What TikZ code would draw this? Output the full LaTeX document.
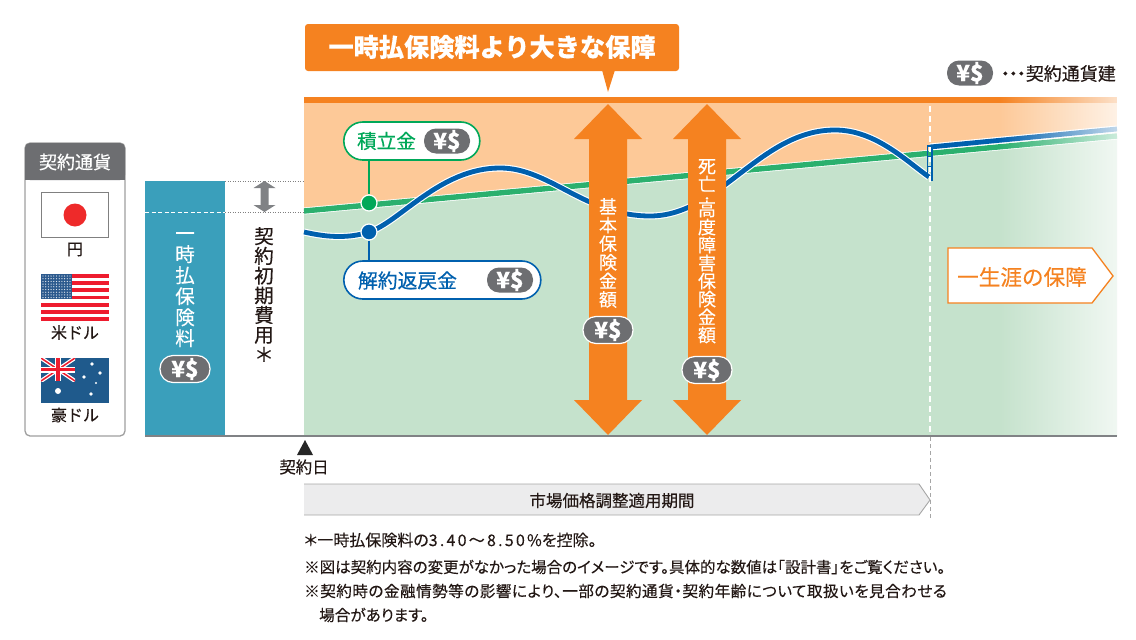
\documentclass[tikz,border=0pt]{standalone}
\usepackage{fontspec}
\setmainfont{Noto Sans CJK JP}[FakeBold=0.35]
\newfontfamily\paltfam{Noto Sans CJK JP}[RawFeature={+palt},FakeBold=0.25]
\newfontfamily\paltwide{Noto Sans CJK JP}[RawFeature={+palt},FakeBold=0.25,LetterSpace=3]
\newfontfamily\spacedfam{Noto Sans CJK JP}[LetterSpace=14,FakeBold=0.25]
\usetikzlibrary{fadings,shapes.geometric}
\definecolor{cOrange}{HTML}{F58220}
\definecolor{cPeach}{HTML}{FDC998}
\definecolor{cMint}{HTML}{C5E2CC}
\definecolor{cGreen}{HTML}{2BB06E}
\definecolor{cGreenDark}{HTML}{00A859}
\definecolor{cBlue}{HTML}{0060AE}
\definecolor{cTeal}{HTML}{3A9FBB}
\definecolor{cGray}{HTML}{6D6E71}
\definecolor{cArrowGray}{HTML}{808285}
\definecolor{cInk}{HTML}{231815}
\definecolor{cBar}{HTML}{ECECED}
\definecolor{cRed}{HTML}{EE2A2A}
\definecolor{cFlagRed}{HTML}{EE1C2E}
\definecolor{cNavy}{HTML}{1F5A8C}
\definecolor{cUSBlue}{HTML}{2C5A8E}
\newcommand{\fs}[2]{\fontsize{#1}{#2}\selectfont}
\tikzset{
  x=1pt,y=-1pt,
  yenpill/.style={fill=cGray,rounded corners=12pt,minimum width=46pt,minimum height=25pt,inner sep=0pt,text=white,font=\fs{22.5}{22.5}\bfseries},
  yenring/.style={yenpill,draw=white,line width=1.2pt,minimum width=50pt,minimum height=27pt,rounded corners=13pt},
  ink/.style={text=cInk,inner sep=0pt},
  note/.style={ink,anchor=west,font=\paltfam\fs{15.6}{15.6}},
  vtext/.style={align=center,inner sep=0pt,anchor=north},
  dotnode/.style={circle,draw=white,line width=1.2pt,minimum size=16pt,inner sep=0pt},
  labelpill/.style={fill=white,line width=1.6pt,rounded corners=19pt,inner sep=0pt,minimum height=38pt,anchor=west},
}
\begin{document}
\begin{tikzpicture}
\useasboundingbox (0,0) rectangle (1136,640);
% chart regions
\fill[cPeach] (304,103) rectangle (1117,436);
\fill[cMint] (304,211) -- (1117,136) -- (1117,436) -- (304,436) -- cycle;
\fill[cOrange] (304,97) rectangle (1117,103);
% green line
\draw[white,line width=7pt] (304,211) -- (1117,136);
\draw[cGreen,line width=5.4pt] (304,211) -- (1117,136);
% blue curve
\def\bluecurve{(304,232) .. controls (330,238) and (350,238) .. (369,232) .. controls (400,222) and (440,168) .. (500,168) .. controls (550,168) and (585,216) .. (650,216) .. controls (720,216) and (760,130) .. (835,130) .. controls (875,130) and (905,160) .. (929,177)}
\draw[white,line width=7pt] \bluecurve;
\draw[cBlue,line width=4.8pt] \bluecurve;
\draw[white,line width=7pt] (930,147) -- (1117,129);
\draw[cBlue,line width=4.8pt] (930,147) -- (1117,129);
% big arrows
\fill[cOrange] (608,104) -- (642,139) -- (627,139) -- (627,400) -- (642,400) -- (608,435) -- (574,400) -- (589,400) -- (589,139) -- (574,139) -- cycle;
\fill[cOrange] (707,104) -- (741,139) -- (726,139) -- (726,400) -- (741,400) -- (707,435) -- (673,400) -- (688,400) -- (688,139) -- (673,139) -- cycle;
% fade
\fill[white,path fading=west] (999,95) rectangle (1155,435);
\fill[white] (1117.5,90) rectangle (1136,436);
% vertical dashed
\draw[white,line width=1.6pt,dash pattern=on 6pt off 4pt] (930,106) -- (930,436);
% jump at end of the guaranteed period
\draw[cBlue,line width=1.6pt] (927.5,145) -- (927.5,177);
\draw[cBlue,line width=1.6pt] (927,146) -- (932,146);
\draw[cBlue,line width=1.2pt] (932,146) -- (932,181);
\draw[cBlue,line width=1pt] (928,156) -- (932,156) (928,166) -- (932,166);
% baseline
\draw[cArrowGray,line width=1.6pt] (145,436) -- (1117,436);
\draw[gray!70,line width=0.8pt,dash pattern=on 4pt off 3pt] (930,437) -- (930,520);
% teal
\fill[cTeal] (145,181) rectangle (225,435);
\draw[white,line width=0.8pt,dash pattern=on 4pt off 2.5pt] (145,212) -- (225,212);
\draw[gray,line width=0.8pt,dash pattern=on 1pt off 1.5pt] (225,181) -- (304,181);
\draw[gray,line width=0.8pt,dash pattern=on 1pt off 1.5pt] (225,212) -- (304,212);
\fill[cArrowGray] (264.5,181) -- (275.5,188) -- (268.5,188) -- (268.5,205) -- (275.5,205) -- (264.5,212) -- (253.5,205) -- (260.5,205) -- (260.5,188) -- (253.5,188) -- cycle;
\node[vtext,text=white,font=\fs{19.5}{21}] (premium) at (185,232) {一\\時\\払\\保\\険\\料};
\node[yenring] (ypremium) at (185,369) {¥\$};
\node[vtext,ink,font=\fs{19.5}{19.7}] (initial) at (264,227) {契\\約\\初\\期\\費\\用\\＊};
% callout
\fill[cOrange,rounded corners=3pt] (305,24) rectangle (679,71);
\fill[cOrange] (602,70) -- (615,70) -- (608,92) -- cycle;
\node[text=white,inner sep=0pt,font=\fs{25.2}{25.2}\bfseries] (headline) at (492,47) {一時払保険料より大きな保障};
% top legend
\node[yenpill] (ylegend) at (970,73) {¥\$};
\node[ink,anchor=east,font=\fs{18}{18}] (legendtext) at (1116,73.5) {\makebox[25pt][c]{\kern-4pt・\kern-10pt・\kern-10pt・\kern-4pt}契約通貨建};
% savings pills
\node[dotnode,fill=cGreenDark] (dotg) at (369,203) {};
\node[dotnode,fill=cBlue] (dotb) at (369,232) {};
\node[labelpill,draw=cGreenDark,minimum width=136pt] (savings) at (343,141) {};
\node[labelpill,draw=cBlue,minimum width=197pt] (refund) at (343,280) {};
\draw[cGreenDark,line width=1.4pt] (savings.south -| dotg) -- (dotg);
\draw[cBlue,line width=1.4pt] (dotb) -- (refund.north -| dotb);
\node[text=cGreenDark,inner sep=0pt,font=\fs{19.6}{19.6}] (savingst) at (386.5,141) {積立金};
\node[yenpill] (ysavings) at (447,141) {¥\$};
\node[text=cBlue,inner sep=0pt,font=\fs{19.8}{19.8}] (refundt) at (407.5,280.5) {解約返戻金};
\node[yenpill] (yrefund) at (510,280) {¥\$};
% arrow labels
\node[vtext,text=white,font=\fs{18}{18.6}] (basic) at (608,198) {基\\本\\保\\険\\金\\額};
\node[yenring] (ybasic) at (608,330) {¥\$};
\node[vtext,text=white,font=\fs{18}{18}] (death) at (707,159) {死\\亡\\[-6pt]{\fs{12}{12}・}\\[-5pt]高\\度\\障\\害\\保\\険\\金\\額};
\node[yenring] (ydeath) at (707,370) {¥\$};
% lifelong box
\draw[cOrange,fill=white,line width=1.3pt] (948,248) -- (1092,248) -- (1113,276) -- (1092,303) -- (948,303) -- cycle;
\node[text=cOrange,inner sep=0pt,font=\fs{21.6}{21.6}] (lifelong) at (1022,277) {一生涯の保障};
% contract date
\fill[black!85] (305,440) -- (313,455) -- (297,455) -- cycle;
\node[ink,font=\fs{16.4}{16.4}] (cdate) at (304,467) {契約日};
% period bar
\draw[gray!70,fill=cBar,line width=0.9pt] (304,484) -- (919,484) -- (930,500) -- (919,515) -- (304,515);
\node[ink,font=\fs{16.5}{16.5}] (period) at (612,500.5) {市場価格調整適用期間};
% notes
\node[note,font=\paltfam\fs{16}{16}] (n1) at (304,540) {＊一時払保険料の{\spacedfam 3.40〜8.50\%}を控除。};
\node[note,font=\paltfam\fs{15.5}{15.5}] (n2) at (304,567) {※図は契約内容の変更がなかった場合のイメージです。具体的な数値は「設計書」をご覧ください。};
\node[note,font=\paltwide\fs{15.6}{15.6}] (n3) at (304,591) {※契約時の金融情勢等の影響により、一部の契約通貨・契約年齢について取扱いを見合わせる};
\node[note] (n4) at (319,615) {場合があります。};
% legend box
\draw[gray!75,fill=white,line width=1.3pt,rounded corners=5pt] (25,143) rectangle (125,436);
\fill[cGray,rounded corners=5pt] (25,143) -- (125,143) -- (125,180) -- (25,180) -- cycle;
\fill[cGray] (25,170) rectangle (125,180);
\node[text=white,inner sep=0pt,font=\fs{18}{18}] (lt) at (75,162) {契約通貨};
% Japan flag
\draw[gray,fill=white,line width=1pt] (41.5,192.5) rectangle (108.5,237);
\fill[cRed] (75,215) circle (11.5);
\node[ink,font=\fs{16}{16}] (yen) at (75,249.5) {円};
% US flag
\begin{scope}
\fill[white] (41,274) rectangle (109,321);
\foreach \i in {0,2,...,12} {\fill[cFlagRed] (41,274+\i*3.615) rectangle (109,274+\i*3.615+3.615);}
\fill[cUSBlue] (41,274) rectangle (72,299.3);
\foreach \r in {0,...,8} {\foreach \c in {0,...,10} {\fill[white!85!cUSBlue] (43+\c*2.7,276+\r*2.7) circle (0.65);}}
\end{scope}
\node[ink,font=\fs{16}{16}] (usd) at (75,332.5) {米ドル};
% Australia flag
\begin{scope}
\fill[cNavy] (41,358) rectangle (109,403);
\begin{scope}
\clip (41,358) rectangle (75,381);
\fill[cNavy] (41,358) rectangle (75,381);
\draw[white,line width=4pt] (41,358) -- (75,381) (75,358) -- (41,381);
\draw[cFlagRed,line width=1.5pt] (41,358) -- (75,381) (75,358) -- (41,381);
\draw[white,line width=6pt] (58,358) -- (58,381) (41,369.5) -- (75,369.5);
\draw[cFlagRed,line width=3.4pt] (58,358) -- (58,381) (41,369.5) -- (75,369.5);
\end{scope}
\foreach \p/\q/\s in {92/364/1.8,84/377/1.8,100/373/1.8,96/383/1.2,91/394/1.8,58/391/3} {\fill[white] (\p,\q) circle (\s);}
\end{scope}
\node[ink,font=\fs{16}{16}] (aud) at (75,415) {豪ドル};
\end{tikzpicture}
\end{document}
